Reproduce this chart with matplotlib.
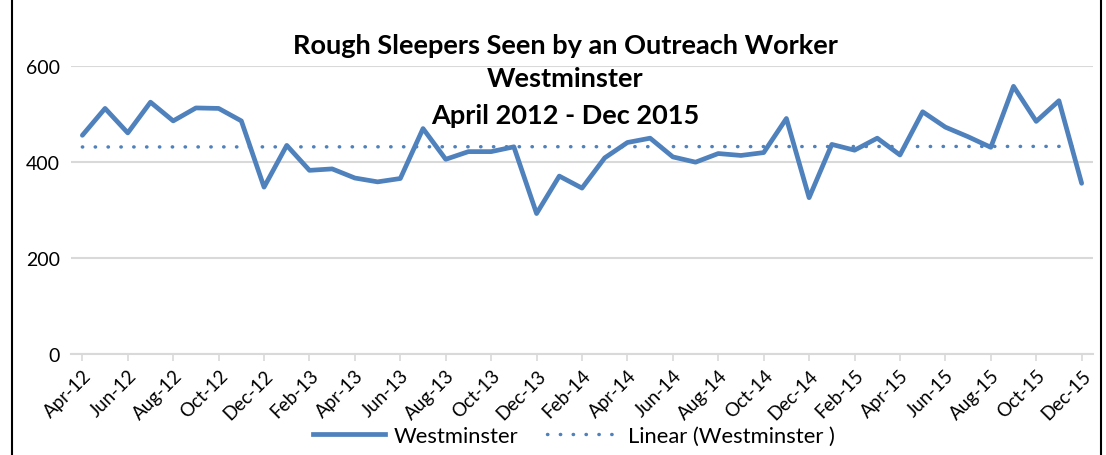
import matplotlib
matplotlib.use("Agg")
import matplotlib.pyplot as plt
import numpy as np
from matplotlib.lines import Line2D

months = ["Apr-12", "May-12", "Jun-12", "Jul-12", "Aug-12", "Sep-12", "Oct-12", "Nov-12", "Dec-12",
          "Jan-13", "Feb-13", "Mar-13", "Apr-13", "May-13", "Jun-13", "Jul-13", "Aug-13", "Sep-13",
          "Oct-13", "Nov-13", "Dec-13", "Jan-14", "Feb-14", "Mar-14", "Apr-14", "May-14", "Jun-14",
          "Jul-14", "Aug-14", "Sep-14", "Oct-14", "Nov-14", "Dec-14", "Jan-15", "Feb-15", "Mar-15",
          "Apr-15", "May-15", "Jun-15", "Jul-15", "Aug-15", "Sep-15", "Oct-15", "Nov-15", "Dec-15"]
westminster = [455, 511, 460, 524, 485, 512, 511, 485, 347,
               434, 382, 385, 366, 358, 365, 469, 405, 421,
               421, 431, 292, 370, 345, 408, 440, 449, 410,
               399, 417, 413, 419, 490, 325, 436, 424, 449,
               414, 504, 472, 452, 430, 557, 484, 527, 355]
yticks = [0, 200, 400, 600]

title_lines = ["Rough Sleepers Seen by an Outreach Worker", "Westminster", "April 2012 - Dec 2015"]

BLUE = "#4F81BD"
GRID = "#D9D9D9"
FONT = "Lato"

W, H = 1106, 456
fig = plt.figure(figsize=(W / 100, H / 100), dpi=100)
ax = fig.add_axes([71 / W, 1 - 354.7 / H, (1093 - 71) / W, (354.7 - 66.7) / H])

x = np.arange(len(westminster))
ax.plot(x, westminster, color=BLUE, lw=3.4, solid_joinstyle="round", solid_capstyle="round", zorder=3)

coef = np.polyfit(x, westminster, 1)
trend = np.polyval(coef, x)
ax.plot(x, trend, color=BLUE, lw=2.5, linestyle=(0, (0.1, 3.6)), dash_capstyle="round", zorder=2)

ax.set_xlim(-0.5, len(westminster) - 0.5)
ax.set_ylim(0, 600)
ax.set_yticks(yticks)
ax.set_yticklabels([str(v) for v in yticks], fontsize=14, family=FONT, color="#000000")
ax.yaxis.grid(True, color=GRID, lw=1.5)
ax.set_axisbelow(True)
ax.tick_params(axis="y", length=0, pad=8)

ax.set_xticks(x[::2])
ax.set_xticklabels(months[::2], rotation=45, ha="right", rotation_mode="anchor",
                   fontsize=13.5, family=FONT)
ax.tick_params(axis="x", length=5, color=GRID, width=1.2, pad=4)

for s in ["left", "right", "top"]:
    ax.spines[s].set_visible(False)
ax.spines["bottom"].set_color(GRID)
ax.spines["bottom"].set_linewidth(1.5)

ys = [46, 79, 116]
for t, yy in zip(title_lines, ys):
    fig.text(565 / W, 1 - yy / H, t, ha="center", va="center", fontsize=19.5,
             fontweight="bold", family=FONT)

handles = [Line2D([], [], color=BLUE, lw=3.4),
           Line2D([], [], color=BLUE, lw=2.5, linestyle=(0, (0.1, 3.6)), dash_capstyle="round")]
fig.legend(handles, ["Westminster", "Linear (Westminster )"], loc="center",
           bbox_to_anchor=(574 / W, 1 - 437 / H), ncol=2, frameon=False,
           prop={"family": FONT, "size": 15.8}, handlelength=3.3, columnspacing=1.3,
           handletextpad=0.4)

fig.add_artist(Line2D([12 / W, 12 / W], [0, 1], color="black", lw=1.5, transform=fig.transFigure))
fig.add_artist(Line2D([1101 / W, 1101 / W], [0, 1], color="black", lw=1.5, transform=fig.transFigure))

fig.savefig("out.png", dpi=100)
